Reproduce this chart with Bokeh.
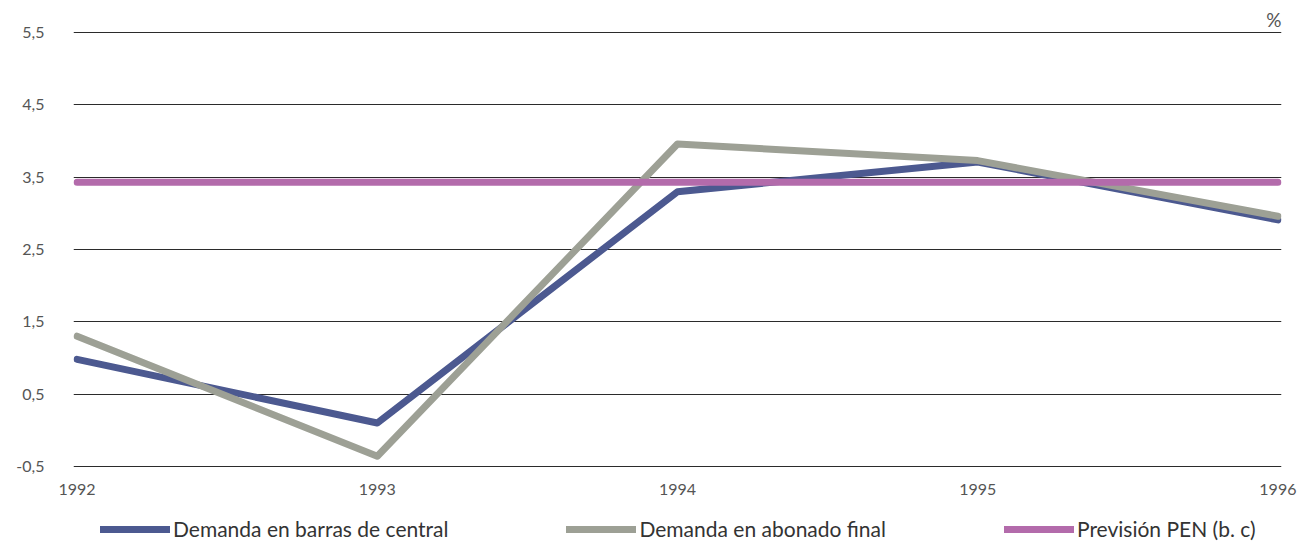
from bokeh.plotting import figure
from bokeh.layouts import column
from bokeh.models import Range1d, FixedTicker, Legend, LegendItem
from bokeh.embed import file_html
from bokeh.resources import INLINE

# Annual electricity demand growth (%)
years = [1992, 1993, 1994, 1995, 1996]
barras_central = [0.98, 0.10, 3.30, 3.71, 2.91]
abonado_final = [1.30, -0.36, 3.96, 3.73, 2.96]
prevision_pen = [3.43, 3.43, 3.43, 3.43, 3.43]

series_names = ["Demanda en barras de central", "Demanda en abonado final", "Previsión PEN (b. c)"]
series_values = [barras_central, abonado_final, prevision_pen]
series_colors = ["#4c5990", "#9da095", "#b36bab"]

y_ticks = [-0.5, 0.5, 1.5, 2.5, 3.5, 4.5, 5.5]
y_tick_labels = ["-0,5", "0,5", "1,5", "2,5", "3,5", "4,5", "5,5"]

FONT = "Lato"
X_RANGE = (1992 - 0.012, 1996 + 0.012)

# ---- main chart -------------------------------------------------------------
p = figure(width=1312, height=505, output_backend="svg", toolbar_location=None,
           x_range=Range1d(*X_RANGE), y_range=Range1d(-0.53, 5.53),
           min_border_left=73, min_border_right=31,
           min_border_top=30, min_border_bottom=37)
p.outline_line_color = None

# unit of the values, top right
p.title.text = "%"
p.title.align = "right"
p.title.text_font = FONT
p.title.text_font_size = "19px"
p.title.text_font_style = "normal"
p.title.text_color = "#555555"
p.title.standoff = 0

p.xaxis.ticker = FixedTicker(ticks=years)
p.yaxis.ticker = FixedTicker(ticks=y_ticks)
p.yaxis.major_label_overrides = {t: s for t, s in zip(y_ticks, y_tick_labels)}
for ax in (p.xaxis[0], p.yaxis[0]):
    ax.axis_line_color = None
    ax.major_tick_line_color = None
    ax.minor_tick_line_color = None
    ax.major_tick_out = 0
    ax.major_tick_in = 0
    ax.major_label_text_font = FONT
    ax.major_label_text_font_size = "16px"
    ax.major_label_text_color = "#555555"
p.yaxis.major_label_standoff = 29
p.xaxis.major_label_standoff = 15

p.xgrid.grid_line_color = None
p.ygrid.ticker = FixedTicker(ticks=y_ticks)
p.ygrid.grid_line_color = "#2b2b2b"
p.ygrid.grid_line_width = 1

for vals, col in zip(series_values, series_colors):
    p.line(years, vals, line_color=col, line_width=7,
           line_cap="round", line_join="round")

# ---- legend strip underneath -------------------------------------------------
leg = figure(width=1312, height=43, output_backend="svg", toolbar_location=None,
             x_range=Range1d(*X_RANGE), y_range=Range1d(-0.53, 5.53),
             x_axis_type=None, y_axis_type=None,
             min_border_left=73, min_border_right=31,
             min_border_top=0, min_border_bottom=0)
leg.outline_line_color = None
leg.grid.visible = False

leg_renderers = []
for vals, col in zip(series_values, series_colors):
    r = leg.line(years, vals, line_color=col, line_width=7,
                 line_cap="round", visible=False)
    leg_renderers.append(r)

legend = Legend(items=[LegendItem(label=n, renderers=[r]) for n, r in zip(series_names, leg_renderers)],
                location=(27, 7), orientation="horizontal",
                glyph_width=70, glyph_height=20, label_height=20,
                label_standoff=3, padding=0, margin=0, spacing=118,
                background_fill_alpha=0, border_line_alpha=0,
                label_text_font=FONT, label_text_font_size="21px",
                label_text_color="#333333")
leg.add_layout(legend)

layout = column(p, leg, spacing=0)
open("out.html", "w").write(file_html(layout, INLINE))
